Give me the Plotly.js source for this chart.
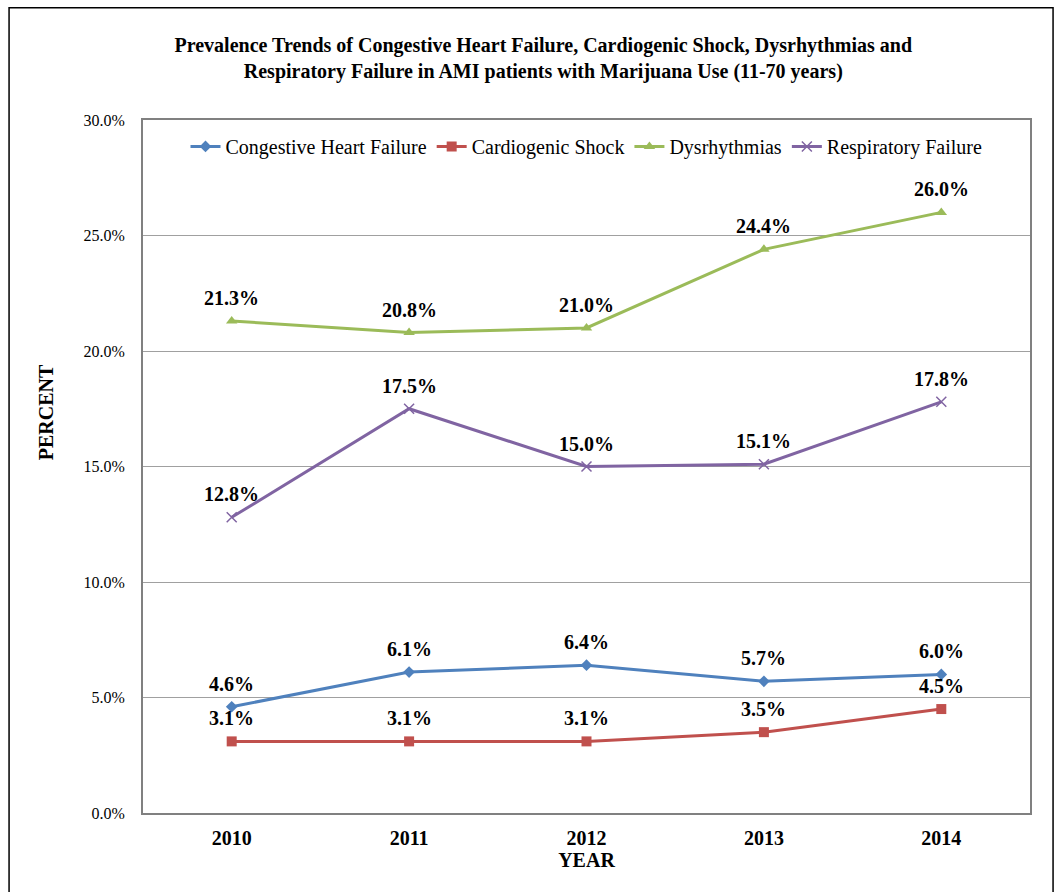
<!DOCTYPE html>
<html>
<head>
<meta charset="utf-8">
<script src="https://cdn.plot.ly/plotly-3.0.1.min.js"></script>
<style>
  html, body { margin: 0; padding: 0; background: #fff; }
  #chart { width: 1057px; height: 892px; }
</style>
</head>
<body>
<div id="chart"></div>
<script>
// -------------------- DATA --------------------
const years = ["2010", "2011", "2012", "2013", "2014"];

const chf = [4.6, 6.1, 6.4, 5.7, 6.0];           // Congestive Heart Failure
const shock = [3.1, 3.1, 3.1, 3.5, 4.5];         // Cardiogenic Shock
const dysrhythmias = [21.3, 20.8, 21.0, 24.4, 26.0];
const respFailure = [12.8, 17.5, 15.0, 15.1, 17.8];

const yTicks = [0, 5, 10, 15, 20, 25, 30];

// -------------------- SERIES --------------------
const SERIF = "Liberation Serif, Times New Roman, serif";

const seriesDefs = [
    { name: "Congestive Heart Failure", y: chf, color: "#4F81BD", symbol: "diamond", size: 9 },
    { name: "Cardiogenic Shock", y: shock, color: "#C0504D", symbol: "square", size: 10 },
    { name: "Dysrhythmias", y: dysrhythmias, color: "#9BBB59", symbol: "triangle-up", size: 10 },
    { name: "Respiratory Failure", y: respFailure, color: "#8064A2", symbol: "x-thin", size: 10 }
];

const traces = seriesDefs.map(s => ({
    x: years,
    y: s.y,
    name: s.name,
    type: "scatter",
    mode: "lines+markers",
    line: { color: s.color, width: 3 },
    marker: {
        color: s.color,
        symbol: s.symbol,
        size: s.size,
        line: { color: s.color, width: s.symbol === "x-thin" ? 1.5 : 0 }
    },
    hoverinfo: "x+y+name"
}));

// value labels above every point
// (x given as category index: "2010" strings get read as numbers on a category axis)
const labels = [];
seriesDefs.forEach(s => {
    s.y.forEach((v, i) => {
        labels.push({
            x: i,
            y: v,
            xref: "x",
            yref: "y",
            text: "<b>" + v.toFixed(1) + "%</b>",
            showarrow: false,
            yshift: 23,
            font: { family: SERIF, size: 20, color: "#000" }
        });
    });
});

labels.push({
    text: "<b>PERCENT</b>",
    xref: "paper", yref: "paper",
    x: -0.110, y: 0.579,
    xanchor: "center", yanchor: "middle",
    textangle: -90,
    showarrow: false,
    font: { family: SERIF, size: 20, color: "#000" }
});

// -------------------- LAYOUT --------------------
const layout = {
    width: 1057,
    height: 892,
    margin: { l: 143, r: 27, t: 120, b: 79 },
    paper_bgcolor: "#fff",
    plot_bgcolor: "#fff",
    showlegend: true,
    title: {
        text: "<b>Prevalence Trends of Congestive Heart Failure, Cardiogenic Shock, Dysrhythmias and<br>Respiratory Failure in AMI patients with Marijuana Use (11-70 years)</b>",
        font: { family: SERIF, size: 20, color: "#000" },
        x: 0.514, xanchor: "center",
        y: 0.9415, yanchor: "middle"
    },
    legend: {
        orientation: "h",
        x: 0.5, xanchor: "center",
        y: 0.99, yanchor: "top",
        font: { family: SERIF, size: 20, color: "#000" },
        bgcolor: "rgba(0,0,0,0)",
        itemwidth: 30,
        tracegroupgap: 0
    },
    xaxis: {
        type: "category",
        range: [-0.5, 4.5],
        showgrid: false,
        showline: true,
        linecolor: "#808080",
        linewidth: 2,
        mirror: true,
        ticks: "",
        ticklabelstandoff: 6,
        tickfont: { family: SERIF, size: 20, color: "#000", weight: "bold" },
        title: {
            text: "<b>YEAR</b>",
            font: { family: SERIF, size: 20, color: "#000" },
            standoff: 1
        },
        zeroline: false,
        fixedrange: true
    },
    yaxis: {
        range: [0, 30],
        tickvals: yTicks,
        ticktext: yTicks.map(t => t.toFixed(1) + "%"),
        showgrid: true,
        gridcolor: "#A0A0A0",
        gridwidth: 1,
        showline: true,
        linecolor: "#808080",
        linewidth: 2,
        mirror: true,
        ticks: "",
        ticklabelstandoff: 13,
        tickfont: { family: SERIF, size: 16, color: "#000" },
        zeroline: false,
        fixedrange: true
    },
    annotations: labels,
    shapes: [{
        type: "rect",
        xref: "paper", yref: "paper",
        x0: -0.151, x1: 1.026,
        y0: -0.2, y1: 1.162,
        line: { color: "#000", width: 1.5 },
        fillcolor: "rgba(0,0,0,0)",
        layer: "below"
    }]
};

Plotly.newPlot("chart", traces, layout, { displayModeBar: false, staticPlot: true });
</script>
</body>
</html>
